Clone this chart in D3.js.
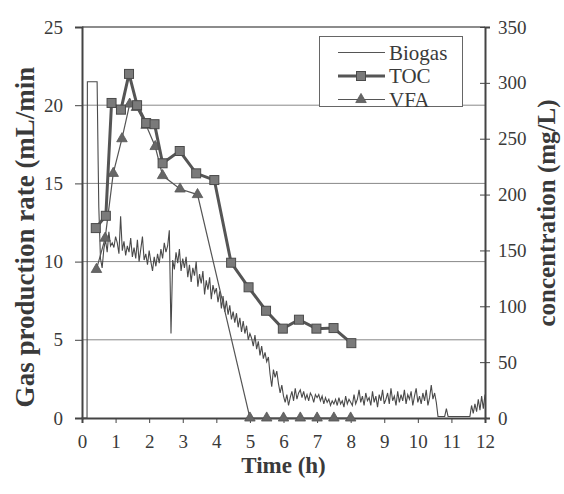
<!DOCTYPE html>
<html>
<head>
<meta charset="utf-8">
<script src="https://cdn.jsdelivr.net/npm/d3@7"></script>
<style>
  html, body { margin: 0; padding: 0; background: #ffffff; }
  svg { display: block; }
  svg text { font-family: "Liberation Serif", "Tinos", "Times New Roman", "Times", "DejaVu Serif", serif !important; fill: #3a3a3a; }
</style>
</head>
<body>
<svg id="chart" width="564" height="494"></svg>
<script>
// ---------------- data ----------------
const xTicks = [0,1,2,3,4,5,6,7,8,9,10,11,12];
const leftTicks = [0,5,10,15,20,25];
const rightTicks = [0,50,100,150,200,250,300,350];

const tocTime = [0.41,0.71,0.88,1.16,1.40,1.64,1.91,2.16,2.40,2.91,3.40,3.94,4.44,4.96,5.48,5.98,6.46,6.98,7.49,8.02];
const tocConc = [170,181,282,276,308,280,264,263,228,239,219,213,139,117,96,80,88,80,80.5,67];

const vfaTime = [0.43,0.69,0.93,1.19,1.42,1.62,1.91,2.18,2.40,2.92,3.44,5.0,5.5,6.0,6.5,7.0,7.5,8.0];
const vfaConc = [133,161,219,250,281,278,262,243,217,205,200,0,0,0,0,0,0,0];

// biogas: start-up spike (explicit points) then the logged trace every 0.05 h from 0.55 h
const biogasHeadTime = [0, 0.15, 0.16, 0.45, 0.48, 0.50];
const biogasHeadRate = [0, 0, 21.5, 21.5, 16.5, 13.5];
const biogasStart = 0.55;
const biogasStep = 0.05;
const biogasRate = [
  10.2, 9.6, 10.8, 11.4, 10.6, 11.9, 11.0, 11.2, 10.9, 11.6,
  11.2, 10.5, 12.9, 10.7, 11.3, 10.4, 11.0, 10.6, 11.5, 10.3,
  10.9, 10.2, 11.4, 10.0, 10.8, 11.6, 10.1, 10.5, 9.8, 10.7,
  10.0, 9.4, 10.3, 9.7, 10.5, 9.9, 10.8, 10.2, 11.2, 10.6,
  11.0, 12.0, 5.4, 10.1, 9.5, 10.6, 9.9, 10.8, 9.4, 10.2,
  9.6, 10.3, 9.0, 9.8, 8.7, 9.6, 9.1, 10.0, 8.4, 9.2,
  8.6, 9.4, 7.9, 8.8, 8.2, 9.0, 7.6, 8.5, 8.0, 8.3,
  7.4, 8.1, 7.0, 7.8, 6.8, 7.5, 6.6, 7.2, 6.3, 6.8,
  6.1, 6.7, 5.8, 6.4, 5.5, 6.2, 5.4, 5.9, 5.0, 5.4,
  5.1, 4.6, 5.3, 4.4, 4.9, 4.0, 4.6, 3.8, 4.2, 3.6,
  3.9, 2.8, 2.0, 3.1, 2.6, 3.0, 2.2, 1.6, 2.1, 1.4,
  1.0, 1.5, 0.8, 1.3, 1.7, 1.1, 1.9, 1.2, 1.6, 1.8,
  1.3, 1.7, 1.2, 1.5, 1.1, 1.6, 1.4, 1.0, 1.5, 1.3,
  1.5, 1.1, 1.4, 0.9, 1.3, 1.0, 1.2, 0.8, 1.1, 0.9,
  1.2, 0.8, 1.3, 0.9, 1.1, 0.7, 1.4, 0.9, 1.2, 1.0,
  0.8, 1.5, 0.9, 1.2, 1.8, 1.0, 1.4, 0.8, 1.6, 1.1,
  1.3, 0.8, 1.7, 1.0, 1.4, 0.7, 1.5, 1.1, 1.8, 0.9,
  1.2, 1.6, 0.9, 1.9, 1.1, 1.4, 0.8, 1.7, 1.0, 1.5,
  1.1, 1.8, 0.9, 1.5, 1.2, 1.7, 0.8, 1.4, 1.9, 1.0,
  1.4, 0.9, 1.6, 1.1, 1.8, 0.8, 1.3, 2.1, 1.2, 1.6,
  1.0, 0.1, 0.1, 0.1, 0.1, 0.1, 0.6, 0.1, 0.1, 0.1,
  0.1, 0.1, 0.1, 0.1, 0.1, 0.1, 0.1, 0.1, 0.1, 0.1,
  0.1, 0.8, 0.3, 0.9, 0.4, 1.2, 0.5, 1.4, 0.6, 1.5
];

const legendLabels = ["Biogas", "TOC", "VFA"];

// ---------------- layout ----------------
const FONT = "'Liberation Serif', 'Tinos', 'Times New Roman', Times, 'DejaVu Serif', serif";
const svg = d3.select("#chart");
const L = 82, R = 485, T = 27, B = 418;

const x = d3.scaleLinear().domain([0, 12]).range([L, R]);
const y = d3.scaleLinear().domain([0, 25]).range([B, T]);
const yR = d3.scaleLinear().domain([0, 350]).range([B, T]);

const ink = "#444";

// gridlines
svg.append("g").selectAll("line").data([5,10,15,20]).join("line")
  .attr("x1", L).attr("x2", R)
  .attr("y1", d => y(d)).attr("y2", d => y(d))
  .attr("stroke", "#888").attr("stroke-width", 1);

// top border
svg.append("line").attr("x1", L).attr("x2", R).attr("y1", T).attr("y2", T)
  .attr("stroke", "#666").attr("stroke-width", 1.5);

// left axis
const gl = svg.append("g").attr("transform", `translate(${L},0)`)
  .call(d3.axisLeft(y).tickValues(leftTicks).tickSize(7).tickPadding(12));
// right axis
const gr = svg.append("g").attr("transform", `translate(${R},0)`)
  .call(d3.axisRight(yR).tickValues(rightTicks).tickSize(5).tickPadding(8));
gr.selectAll(".tick line").attr("x1", -5);
// bottom axis
const gb = svg.append("g").attr("transform", `translate(0,${B})`)
  .call(d3.axisBottom(x).tickValues(xTicks).tickSize(5).tickPadding(12));

[gl, gr, gb].forEach(g => {
  g.attr("font-family", FONT).attr("font-size", 19);
  g.select(".domain").attr("stroke", ink).attr("stroke-width", 2);
  g.selectAll(".tick line").attr("stroke", ink).attr("stroke-width", 1);
  g.selectAll(".tick text").attr("fill", "#3a3a3a")
    .attr("font-family", FONT).attr("font-size", 19);
});

// ---------------- series ----------------
const biogasPts = biogasHeadTime.map((t, i) => [t, biogasHeadRate[i]])
  .concat(biogasRate.map((v, i) => [biogasStart + i * biogasStep, v]));

svg.append("path").datum(biogasPts)
  .attr("fill", "none").attr("stroke", "#4a4a4a").attr("stroke-width", 1.1)
  .attr("d", d3.line().x(d => x(d[0])).y(d => y(d[1])));

// VFA
const vfaPts = vfaTime.map((t, i) => [t, vfaConc[i]]);
svg.append("path").datum(vfaPts)
  .attr("fill", "none").attr("stroke", "#555").attr("stroke-width", 1.2)
  .attr("d", d3.line().x(d => x(d[0])).y(d => yR(d[1])));
const tri = d3.symbol().type(d3.symbolTriangle).size(48);
svg.append("g").selectAll("path").data(vfaPts).join("path")
  .attr("transform", d => `translate(${x(d[0])},${yR(d[1])})`)
  .attr("d", tri).attr("fill", "#666").attr("stroke", "#555").attr("stroke-width", 0.8);

// TOC
const tocPts = tocTime.map((t, i) => [t, tocConc[i]]);
svg.append("path").datum(tocPts)
  .attr("fill", "none").attr("stroke", "#555").attr("stroke-width", 3)
  .attr("d", d3.line().x(d => x(d[0])).y(d => yR(d[1])));
svg.append("g").selectAll("rect").data(tocPts).join("rect")
  .attr("x", d => x(d[0]) - 4.5).attr("y", d => yR(d[1]) - 4.5)
  .attr("width", 9).attr("height", 9)
  .attr("fill", "#7a7a7a").attr("stroke", "#4a4a4a").attr("stroke-width", 1);

// ---------------- legend ----------------
const lg = svg.append("g");
lg.append("rect").attr("x", 319.5).attr("y", 36.5).attr("width", 143).attr("height", 70)
  .attr("fill", "#fff").attr("stroke", "#666").attr("stroke-width", 1);
const rowsY = [52.5, 76, 99.5];
legendLabels.forEach((lab, i) => {
  const cy = rowsY[i];
  lg.append("line").attr("x1", 338).attr("x2", 385).attr("y1", cy).attr("y2", cy)
    .attr("stroke", "#555").attr("stroke-width", i === 1 ? 3 : 1.2);
  if (i === 1) {
    lg.append("rect").attr("x", 361 - 4.5).attr("y", cy - 4.5).attr("width", 9).attr("height", 9)
      .attr("fill", "#7a7a7a").attr("stroke", "#4a4a4a");
  } else if (i === 2) {
    lg.append("path").attr("transform", `translate(361,${cy})`).attr("d", tri)
      .attr("fill", "#666").attr("stroke", "#555").attr("stroke-width", 0.8);
  }
  lg.append("text").attr("x", 389).attr("y", cy + 7)
    .attr("font-family", FONT).attr("font-size", 21).text(lab);
});

// ---------------- titles ----------------
svg.append("text").attr("x", (L + R) / 2).attr("y", 473).attr("text-anchor", "middle")
  .attr("font-family", FONT).attr("font-size", 23).attr("font-weight", "bold").text("Time (h)");
svg.append("text").attr("transform", "translate(34,237) rotate(-90)").attr("text-anchor", "middle")
  .attr("font-family", FONT).attr("font-size", 27).attr("font-weight", "bold").text("Gas production rate (mL/min");
svg.append("text").attr("transform", "translate(555,213) rotate(-90)").attr("text-anchor", "middle")
  .attr("font-family", FONT).attr("font-size", 25).attr("font-weight", "bold").text("concentration (mg/L)");
</script>
</body>
</html>
